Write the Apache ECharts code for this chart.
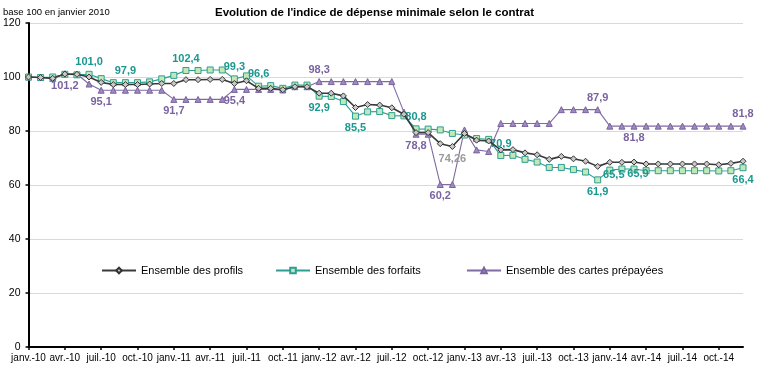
<!DOCTYPE html>
<html>
<head>
<meta charset="utf-8">
<script src="https://cdn.jsdelivr.net/npm/echarts@6/dist/echarts.min.js"></script>
<style>
html,body{margin:0;padding:0;background:#fff;}
#chart{width:757px;height:372px;}
</style>
</head>
<body>
<div id="chart"></div>
<script>
// ---- data ----
var monthNames = ['janv.', 'févr.', 'mars', 'avr.', 'mai', 'juin', 'juil.', 'août', 'sept.', 'oct.', 'nov.', 'déc.'];
var years = ['10', '11', '12', '13', '14'];
var categories = [];
years.forEach(function (y) { monthNames.forEach(function (m) { categories.push(m + '-' + y); }); });

var profils = [
  100, 99.8, 99.5, 101.1, 101.0, 100.0, 98.0, 97.2, 97.2, 97.2, 97.4, 97.6,
  97.6, 99.0, 99.0, 99.1, 99.1, 97.6, 98.6, 95.8, 95.8, 95.3, 96.4, 96.4,
  94.0, 94.0, 93.0, 88.7, 89.8, 89.6, 88.6, 86.2, 79.4, 79.4, 75.3, 74.26,
  79.1, 76.6, 76.3, 73.0, 73.1, 71.9, 71.2, 69.5, 70.6, 69.7, 68.8, 66.9,
  68.4, 68.4, 68.5, 67.8, 67.8, 67.8, 67.8, 67.8, 67.8, 67.5, 68.0, 68.8
];
var forfaits = [
  100, 99.8, 100.0, 101.0, 100.8, 101.0, 99.4, 97.9, 97.9, 97.9, 98.2, 99.3,
  100.6, 102.4, 102.4, 102.6, 102.6, 99.3, 100.4, 96.6, 96.8, 95.8, 97.0, 97.0,
  92.9, 92.8, 90.9, 85.5, 87.1, 87.2, 85.7, 85.6, 80.8, 80.7, 80.4, 79.1,
  78.5, 77.2, 76.9, 70.9, 71.0, 69.5, 68.5, 66.5, 66.5, 65.7, 64.8, 61.9,
  65.5, 65.9, 65.9, 65.3, 65.3, 65.3, 65.3, 65.3, 65.3, 65.2, 65.3, 66.4
];
var cartes = [
  100, 99.8, 99.5, 101.2, 101.0, 97.4, 95.1, 95.1, 95.1, 95.1, 95.1, 95.1,
  91.7, 91.7, 91.7, 91.7, 91.7, 95.4, 95.4, 95.4, 95.4, 95.2, 96.4, 96.4,
  98.3, 98.3, 98.3, 98.3, 98.3, 98.3, 98.3, 87.0, 78.8, 78.8, 60.2, 60.2,
  80.4, 73.0, 72.4, 82.8, 82.8, 82.8, 82.8, 82.8, 87.9, 87.9, 87.9, 87.9,
  81.8, 81.8, 81.8, 81.8, 81.8, 81.8, 81.8, 81.8, 81.8, 81.8, 81.8, 81.8
];
var yTicks = [0, 20, 40, 60, 80, 100, 120];

// which points carry a value label, and where
var profilsLabels = { 35: 'bottom' };
var forfaitsLabels = { 5: 'top', 8: 'top', 13: 'top', 17: 'top', 19: 'top', 24: 'bottom', 27: 'bottom',
  32: 'top', 39: 'top', 47: 'bottom', 48: 'bottomShift', 50: 'bottomShift', 59: 'bottom' };
var cartesLabels = { 3: 'bottom', 6: 'bottom', 12: 'bottom', 17: 'bottom', 24: 'top', 32: 'bottom',
  34: 'bottom', 47: 'top', 50: 'bottom', 59: 'top' };

function fmt(v) {
  var s = (Math.round(v * 10) === v * 10) ? v.toFixed(1) : v.toFixed(2);
  return s.replace('.', ',');
}
function build(values, labels, color) {
  return values.map(function (v, i) {
    var p = labels[i];
    if (!p) return v;
    var lab = { show: true, position: p === 'bottomShift' ? 'bottom' : p, distance: 3,
      color: color, fontWeight: 'bold', fontSize: 11, fontFamily: 'Liberation Sans, Arial, sans-serif',
      formatter: function () { return fmt(v); } };
    if (p === 'bottomShift') lab.offset = [4, -7];
    return { value: v, label: lab };
  });
}

var chart = echarts.init(document.getElementById('chart'), null, { renderer: 'canvas' });
var font = 'Liberation Sans, Arial, sans-serif';
var option = {
  animation: false,
  backgroundColor: '#fff',
  textStyle: { fontFamily: font },
  title: [
    { text: "Evolution de l'indice de dépense minimale selon le contrat", left: 210, top: 2,
      textStyle: { fontSize: 11.5, fontWeight: 'bold', color: '#000', fontFamily: font } },
    { text: 'base 100 en janvier 2010', left: -2, top: 2,
      textStyle: { fontSize: 9.5, fontWeight: 'normal', color: '#000', fontFamily: font } }
  ],
  legend: [
    { data: ['Ensemble des profils'], left: 96, top: 260, itemWidth: 34, itemHeight: 7,
      textStyle: { fontSize: 11, color: '#000', fontFamily: font } },
    { data: ['Ensemble des forfaits'], left: 270, top: 260, itemWidth: 34, itemHeight: 7,
      textStyle: { fontSize: 11, color: '#000', fontFamily: font } },
    { data: ['Ensemble des cartes prépayées'], left: 461, top: 260, itemWidth: 34, itemHeight: 7,
      textStyle: { fontSize: 11, color: '#000', fontFamily: font } }
  ],
  grid: { left: 28, right: 14, top: 23, bottom: 25, containLabel: false },
  xAxis: {
    type: 'category', data: categories, boundaryGap: false,
    axisLine: { lineStyle: { color: '#000', width: 2 } },
    axisTick: { interval: 2, length: 3, lineStyle: { color: '#000', width: 1.5 } },
    axisLabel: { interval: 2, fontSize: 10, color: '#000', margin: 6, fontFamily: font },
    splitLine: { show: false }
  },
  yAxis: {
    type: 'value', min: yTicks[0], max: yTicks[yTicks.length - 1], interval: 20,
    axisLine: { show: true, lineStyle: { color: '#000', width: 2 } },
    axisTick: { show: true, length: 3, lineStyle: { color: '#000', width: 1.5 } },
    axisLabel: { fontSize: 10.5, color: '#000', margin: 8, fontFamily: font },
    splitLine: { lineStyle: { color: '#d9d9d9', width: 1 } }
  },
  series: [
    { name: 'Ensemble des cartes prépayées', type: 'line', data: build(cartes, cartesLabels, '#7a64a0'),
      symbol: 'triangle', symbolSize: 6,
      lineStyle: { color: '#7f6aa2', width: 1.1 },
      itemStyle: { color: '#9d8abf', borderColor: '#7a63a0', borderWidth: 1 }, z: 2 },
    { name: 'Ensemble des forfaits', type: 'line', data: build(forfaits, forfaitsLabels, '#1a9890'),
      symbol: 'rect', symbolSize: 6,
      lineStyle: { color: '#2e9e94', width: 1.1 },
      itemStyle: { color: '#c2e8b6', borderColor: '#2e9e94', borderWidth: 1 }, z: 3 },
    { name: 'Ensemble des profils', type: 'line', data: build(profils, profilsLabels, '#9a9a9a'),
      symbol: 'diamond', symbolSize: 6,
      lineStyle: { color: '#3a3a3a', width: 1.6 },
      itemStyle: { color: '#c8c8c8', borderColor: '#333', borderWidth: 1 }, z: 4 }
  ]
};
chart.setOption(option);
</script>
</body>
</html>
